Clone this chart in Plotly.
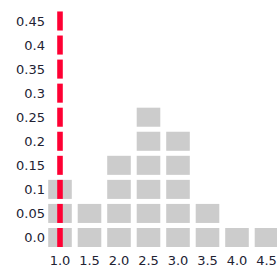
import plotly.graph_objects as go

categories = [1.0, 1.5, 2.0, 2.5, 3.0, 3.5, 4.0, 4.5]
counts = [3, 2, 4, 6, 5, 2, 1, 1]
y_ticks = [0.0, 0.05, 0.1, 0.15, 0.2, 0.25, 0.3, 0.35, 0.4, 0.45]
y_tick_labels = ["0.0", "0.05", "0.1", "0.15", "0.2", "0.25", "0.3", "0.35", "0.4", "0.45"]
x_tick_labels = ["1.0", "1.5", "2.0", "2.5", "3.0", "3.5", "4.0", "4.5"]
marker_x = 1.0

half_h = 0.0198

fig = go.Figure()
max_count = max(counts)
for k in range(max_count):
    xs = [c for c, n in zip(categories, counts) if n > k]
    fig.add_trace(go.Bar(
        x=xs, y=[2 * half_h] * len(xs), base=[y_ticks[k] - half_h] * len(xs),
        width=0.4, marker=dict(color="#cccccc", line=dict(width=0)),
        hoverinfo="skip", showlegend=False))

fig.add_trace(go.Bar(
    x=[marker_x] * len(y_ticks), y=[2 * half_h] * len(y_ticks),
    base=[v - half_h for v in y_ticks],
    width=0.095, marker=dict(color="#ff0033", line=dict(width=0)),
    hoverinfo="skip", showlegend=False))

fig.update_layout(
    width=277, height=268, barmode="overlay",
    margin=dict(l=46, r=0, t=8, b=18, autoexpand=False),
    paper_bgcolor="white", plot_bgcolor="white",
    font=dict(family="DejaVu Sans", size=13, color="#222233"),
    xaxis=dict(range=[0.7627, 4.678], tickvals=categories, ticktext=x_tick_labels,
               showgrid=False, zeroline=False, showline=False, ticks="",
               ticklabelstandoff=1),
    yaxis=dict(range=[-0.026, 0.477], tickvals=y_ticks, ticktext=y_tick_labels,
               showgrid=False, zeroline=False, showline=False, ticks=""),
)
fig.write_html("out.html", config={"displayModeBar": False},
               post_script="document.body.style.margin='0';")
